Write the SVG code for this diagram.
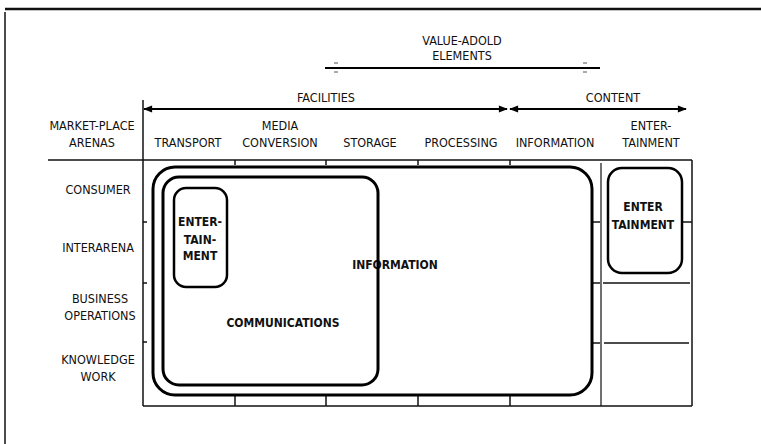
<svg xmlns="http://www.w3.org/2000/svg" width="761" height="444" viewBox="0 0 761 444">
<style>
.t{font-family:"Liberation Sans Narrow","DejaVu Sans Condensed","Liberation Sans",sans-serif;font-size:12.5px;fill:#111;text-anchor:middle}
.b{font-weight:bold;font-size:12px}
.g{stroke:#111;stroke-width:1.5;fill:none}
.box{fill:none;stroke:#000;stroke-width:3}
</style>
<defs>
<marker id="ah" viewBox="0 0 10 10" refX="9" refY="5" markerWidth="17" markerHeight="9" markerUnits="userSpaceOnUse" orient="auto-start-reverse"><path d="M0,1 L10,5 L0,9 Z" fill="#000"/></marker>
</defs>
<rect width="761" height="444" fill="#fff"/>
<!-- frame -->
<line x1="5" y1="9" x2="761" y2="9" stroke="#111" stroke-width="2.5"/>
<line x1="5" y1="12" x2="5" y2="444" stroke="#111" stroke-width="1.5"/>

<g id="value-added">
<text class="t" x="462" y="45" font-size="12">VALUE-ADOLD</text>
<text class="t" x="462" y="60" font-size="12">ELEMENTS</text>
<line x1="325" y1="68" x2="600" y2="68" stroke="#000" stroke-width="2"/>
<line x1="334" y1="63" x2="338" y2="63" stroke="#555" stroke-width="1"/>
<line x1="334" y1="72" x2="338" y2="72" stroke="#555" stroke-width="1"/>
<line x1="583" y1="63" x2="587" y2="63" stroke="#555" stroke-width="1"/>
<line x1="583" y1="72" x2="587" y2="72" stroke="#555" stroke-width="1"/>
</g>

<g id="connectors">
<line x1="144" y1="109" x2="507" y2="109" stroke="#000" stroke-width="1.8" marker-start="url(#ah)" marker-end="url(#ah)"/>
<line x1="510" y1="109" x2="686" y2="109" stroke="#000" stroke-width="1.8" marker-start="url(#ah)" marker-end="url(#ah)"/>
</g>

<g id="facilities"><text class="t" x="326" y="102">FACILITIES</text></g>
<g id="content"><text class="t" x="613" y="102">CONTENT</text></g>

<g id="col-headers">
<text class="t" x="92" y="130">MARKET-PLACE</text>
<text class="t" x="92" y="147">ARENAS</text>
<text class="t" x="188" y="147">TRANSPORT</text>
<text class="t" x="280" y="130">MEDIA</text>
<text class="t" x="280" y="147">CONVERSION</text>
<text class="t" x="370" y="147">STORAGE</text>
<text class="t" x="461" y="147">PROCESSING</text>
<text class="t" x="555" y="147">INFORMATION</text>
<text class="t" x="651" y="130">ENTER-</text>
<text class="t" x="651" y="147">TAINMENT</text>
</g>

<g id="row-headers">
<text class="t" x="98" y="194">CONSUMER</text>
<text class="t" x="98" y="252">INTERARENA</text>
<text class="t" x="100" y="303">BUSINESS</text>
<text class="t" x="100" y="320">OPERATIONS</text>
<text class="t" x="98" y="364">KNOWLEDGE</text>
<text class="t" x="98" y="381">WORK</text>
</g>

<g id="grid" class="g">
<line x1="143" y1="100" x2="143" y2="406"/>
<line x1="48" y1="160" x2="692" y2="160"/>
<line x1="143" y1="406" x2="692" y2="406"/>
<line x1="601" y1="163" x2="601" y2="406" stroke-width="1.2"/>
<line x1="692" y1="160" x2="692" y2="406"/>
<line x1="603" y1="283" x2="690" y2="283"/>
<line x1="604" y1="343" x2="689" y2="343"/>
<line x1="143" y1="222" x2="147" y2="222"/>
<line x1="143" y1="283" x2="147" y2="283"/>
<line x1="143" y1="342" x2="147" y2="342"/>
<line x1="592" y1="222" x2="600" y2="222"/>
<line x1="592" y1="283" x2="600" y2="283"/>
<line x1="592" y1="343" x2="600" y2="343"/>
<line x1="682" y1="222" x2="692" y2="222"/>
<line x1="235" y1="160" x2="235" y2="165"/>
<line x1="326" y1="160" x2="326" y2="165"/>
<line x1="418" y1="160" x2="418" y2="165"/>
<line x1="510" y1="160" x2="510" y2="165"/>
<line x1="235" y1="396" x2="235" y2="406"/>
<line x1="326" y1="396" x2="326" y2="406"/>
<line x1="418" y1="396" x2="418" y2="406"/>
<line x1="510" y1="396" x2="510" y2="406"/>
</g>

<g id="information">
<rect class="box" x="153" y="167" width="439" height="228" rx="22"/>
<text class="t b" x="395" y="269">INFORMATION</text>
</g>

<g id="communications">
<rect class="box" x="163" y="177" width="215" height="208" rx="16"/>
<text class="t b" x="283" y="327">COMMUNICATIONS</text>
</g>

<g id="entertainment-left">
<rect x="174" y="188" width="53" height="99" rx="12" fill="#fff" stroke="#000" stroke-width="2.5"/>
<text class="t b" x="200" y="226">ENTER-</text>
<text class="t b" x="200" y="244">TAIN-</text>
<text class="t b" x="200" y="260">MENT</text>
</g>

<g id="entertainment-right">
<rect x="608" y="168" width="74" height="105" rx="14" fill="none" stroke="#000" stroke-width="2.5"/>
<text class="t b" x="643" y="211">ENTER</text>
<text class="t b" x="643" y="229">TAINMENT</text>
</g>
</svg>
